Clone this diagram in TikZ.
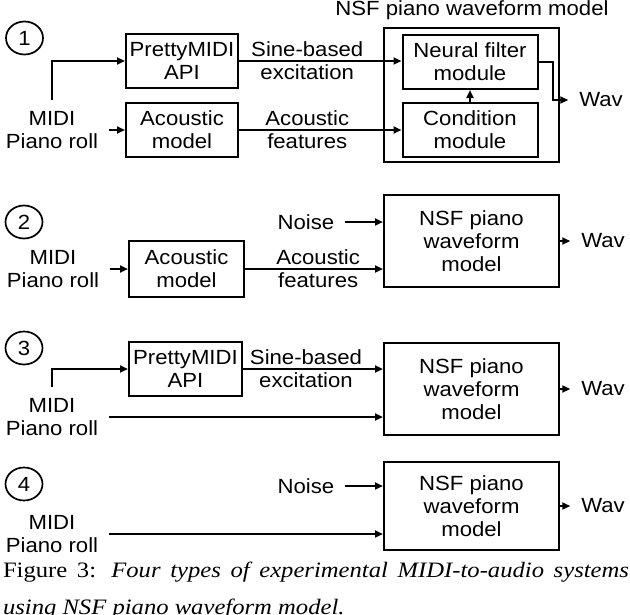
\documentclass[tikz,border=0pt]{standalone}
\usepackage{fontspec}
\setmainfont[FakeStretch=1.08]{Liberation Sans}
\newfontfamily\capfont[FakeStretch=1.12]{Liberation Serif}
\usetikzlibrary{arrows.meta,shapes.geometric}
\begin{document}
\begin{tikzpicture}[x=1pt,y=-1pt,line width=2pt,font=\fontsize{20.5}{23}\selectfont,
    box/.style={draw,rectangle,align=center,inner sep=0pt},
    lbl/.style={align=center,inner sep=2pt,outer sep=9pt},
    num/.style={draw,ellipse,minimum width=37pt,minimum height=33pt,inner sep=0pt,line width=1.7pt},
    arr/.style={-{Triangle[length=8pt,width=7pt]}}]
            \useasboundingbox (0,0) rectangle (630,614);
            % system 1
            \node [num] (c1) at (24.5,38) {1};%
            \node (title1) at (472,10) {NSF piano waveform model};%
            \node [box,minimum width=175pt,minimum height=134pt] (nsf1) at (471.5,95) {};%
            \node [box,minimum width=135pt,minimum height=54pt] (nf1) at (470,62) {Neural filter\\module};%
            \node [box,minimum width=135pt,minimum height=54pt] (cm1) at (470,130) {Condition\\module};%
            \node [box,minimum width=112pt,minimum height=54pt] (pm1) at (182,61) {PrettyMIDI\\API};%
            \node [box,minimum width=112pt,minimum height=54pt] (am1) at (182,130) {Acoustic\\model};%
            \node [lbl] (midi1) at (52,130) {MIDI\\Piano roll};%
            \node [lbl] (wav1) at (601,100) {Wav};%
            \draw [arr] (midi1.north) |- (pm1.west);
            \draw [arr] (midi1.east) -- (midi1.east -| am1.west);
            \draw [arr] (pm1.east) -- node [pos=0.42,align=center] (se1) {Sine-based\\excitation} (pm1.east -| nf1.west);
            \draw [arr] (am1.east) -- node [pos=0.42,align=center] (af1) {Acoustic\\features} (am1.east -| cm1.west);
            \draw [arr] (cm1.north) -- (nf1.south);
            \draw [arr] (nf1.east) -- ++(14,0) |- (wav1.west);
            % system 2
            \node [num] (c2) at (24,222) {2};%
            \node [lbl] (midi2) at (53,269) {MIDI\\Piano roll};%
            \node [box,minimum width=115pt,minimum height=56pt] (am2) at (186.5,269) {Acoustic\\model};%
            \node [lbl] (noise2) at (306,222) {Noise};%
            \node [box,minimum width=175pt,minimum height=92pt] (nsf2) at (471.5,241) {NSF piano\\waveform\\model};%
            \node [lbl] (wav2) at (603,241) {Wav};%
            \draw [arr] (midi2.east) -- (midi2.east -| am2.west);
            \draw [arr] (am2.east) -- node [pos=0.53,align=center] (af2) {Acoustic\\features} (am2.east -| nsf2.west);
            \draw [arr] (noise2.east) -- (noise2.east -| nsf2.west);
            \draw [arr] (nsf2.east) -- (nsf2.east -| wav2.west);
            % system 3
            \node [num] (c3) at (24,348) {3};%
            \node [box,minimum width=113pt,minimum height=54pt] (pm3) at (185.5,369) {PrettyMIDI\\API};%
            \node [lbl] (midi3) at (52,417) {MIDI\\Piano roll};%
            \node [box,minimum width=175pt,minimum height=92pt] (nsf3) at (471.5,389) {NSF piano\\waveform\\model};%
            \node [lbl] (wav3) at (603,389) {Wav};%
            \draw [arr] (midi3.north) |- (pm3.west);
            \draw [arr] (midi3.east) -- (midi3.east -| nsf3.west);
            \draw [arr] (pm3.east) -- node [pos=0.45,align=center] (se3) {Sine-based\\excitation} (pm3.east -| nsf3.west);
            \draw [arr] (nsf3.east) -- (nsf3.east -| wav3.west);
            % system 4
            \node [num] (c4) at (24,484) {4};%
            \node [lbl] (noise4) at (306,486) {Noise};%
            \node [box,minimum width=175pt,minimum height=88pt] (nsf4) at (471.5,506) {NSF piano\\waveform\\model};%
            \node [lbl] (midi4) at (52,534) {MIDI\\Piano roll};%
            \node [lbl] (wav4) at (603,506) {Wav};%
            \draw [arr] (noise4.east) -- (noise4.east -| nsf4.west);
            \draw [arr] (midi4.east) -- (midi4.east -| nsf4.west);
            \draw [arr] (nsf4.east) -- (nsf4.east -| wav4.west);
            % caption
            \node [anchor=base west,inner sep=0pt,font=\capfont\fontsize{22}{26}\selectfont] (cap1) at (2,577) {\makebox[626pt][s]{Figure 3: \textit{Four types of experimental MIDI-to-audio systems}}};%
            \node [anchor=base west,inner sep=0pt,font=\capfont\fontsize{22}{26}\selectfont] (cap2) at (2,614) {\textit{using NSF piano waveform model.}};%
        \end{tikzpicture}
\end{document}
